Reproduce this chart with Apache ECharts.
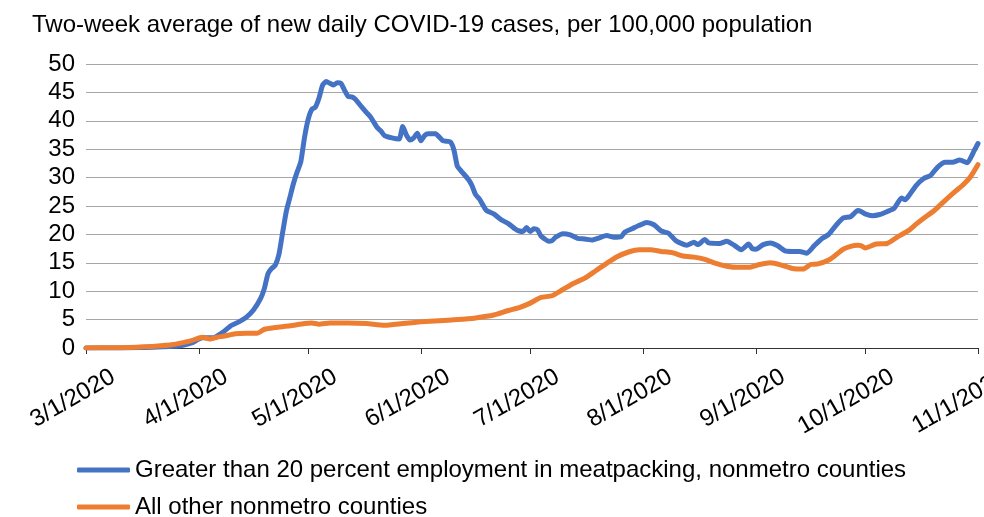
<!DOCTYPE html>
<html>
<head>
<meta charset="utf-8">
<script src="https://cdn.jsdelivr.net/npm/echarts@6/dist/echarts.min.js"></script>
<style>
html,body{margin:0;padding:0;background:#fff;}
#chart{width:984px;height:517px;}
</style>
</head>
<body>
<div id="chart"></div>
<script>
const titleText = 'Two-week average of new daily COVID-19 cases, per 100,000 population';
const seriesNames = ['Greater than 20 percent employment in meatpacking, nonmetro counties', 'All other nonmetro counties'];
const yTicks = [0, 5, 10, 15, 20, 25, 30, 35, 40, 45, 50];

const meatDates = ['2020-03-01','2020-03-10','2020-03-17','2020-03-22','2020-03-27','2020-03-30','2020-04-02','2020-04-05','2020-04-07','2020-04-10','2020-04-12','2020-04-14','2020-04-16','2020-04-18','2020-04-19','2020-04-20','2020-04-21','2020-04-22','2020-04-23','2020-04-24','2020-04-25','2020-04-26','2020-04-27','2020-04-28','2020-04-29','2020-04-30','2020-05-01','2020-05-02','2020-05-03','2020-05-04','2020-05-05','2020-05-06','2020-05-07','2020-05-08','2020-05-09','2020-05-10','2020-05-11','2020-05-12','2020-05-13','2020-05-14','2020-05-15','2020-05-17','2020-05-18','2020-05-19','2020-05-20','2020-05-21','2020-05-22','2020-05-24','2020-05-26','2020-05-27','2020-05-28','2020-05-29','2020-05-30','2020-05-31','2020-06-01','2020-06-02','2020-06-03','2020-06-05','2020-06-07','2020-06-09','2020-06-10','2020-06-11','2020-06-12','2020-06-14','2020-06-15','2020-06-16','2020-06-17','2020-06-18','2020-06-19','2020-06-21','2020-06-23','2020-06-25','2020-06-27','2020-06-28','2020-06-29','2020-06-30','2020-07-01','2020-07-02','2020-07-03','2020-07-04','2020-07-05','2020-07-06','2020-07-07','2020-07-08','2020-07-10','2020-07-12','2020-07-14','2020-07-16','2020-07-18','2020-07-20','2020-07-22','2020-07-24','2020-07-26','2020-07-27','2020-07-29','2020-07-31','2020-08-02','2020-08-04','2020-08-06','2020-08-08','2020-08-10','2020-08-13','2020-08-15','2020-08-16','2020-08-18','2020-08-19','2020-08-22','2020-08-24','2020-08-26','2020-08-28','2020-08-30','2020-08-31','2020-09-01','2020-09-03','2020-09-05','2020-09-07','2020-09-09','2020-09-11','2020-09-13','2020-09-15','2020-09-17','2020-09-19','2020-09-21','2020-09-23','2020-09-25','2020-09-27','2020-09-29','2020-09-30','2020-10-01','2020-10-03','2020-10-05','2020-10-07','2020-10-09','2020-10-11','2020-10-12','2020-10-13','2020-10-15','2020-10-17','2020-10-19','2020-10-21','2020-10-23','2020-10-25','2020-10-27','2020-10-29','2020-10-31','2020-11-01'];
const meatValues = [0,0,0.1,0.2,0.4,0.9,1.8,1.8,2.5,4.0,4.6,5.4,6.7,8.8,10.5,13.1,14.0,14.6,16.5,20.3,24.0,26.5,29.0,31.0,32.8,37.0,40.2,42.0,42.4,44.0,46.3,46.9,46.6,46.3,46.7,46.6,45.4,44.3,44.2,43.8,43.0,41.5,40.8,39.8,38.8,38.2,37.4,37.0,36.8,39.0,37.5,36.6,37.0,37.8,36.5,37.4,37.7,37.7,36.5,36.3,35.0,32.0,31.2,29.7,28.6,27.0,26.3,25.2,24.2,23.6,22.6,21.9,20.9,20.6,20.5,21.2,20.5,21.0,20.8,19.7,19.2,18.8,18.9,19.5,20.1,19.9,19.3,19.2,19.0,19.4,19.8,19.5,19.6,20.4,21.0,21.6,22.1,21.7,20.6,20.2,18.9,18.1,18.6,18.2,19.1,18.5,18.4,18.8,18.1,17.3,18.3,17.5,17.4,18.2,18.5,18.0,17.1,17.0,17.0,16.7,18.0,19.2,20.0,21.6,22.9,23.1,24.2,24.0,23.6,23.3,23.5,24.0,24.6,26.4,26.1,26.8,28.6,29.8,30.4,31.9,32.7,32.7,33.1,32.6,34.8,36.0];

const otherDates = ['2020-03-01','2020-03-10','2020-03-15','2020-03-20','2020-03-25','2020-03-28','2020-03-30','2020-04-02','2020-04-04','2020-04-06','2020-04-08','2020-04-11','2020-04-14','2020-04-17','2020-04-19','2020-04-22','2020-04-26','2020-04-30','2020-05-02','2020-05-04','2020-05-07','2020-05-12','2020-05-17','2020-05-22','2020-05-27','2020-06-01','2020-06-06','2020-06-11','2020-06-16','2020-06-21','2020-06-25','2020-06-28','2020-07-01','2020-07-04','2020-07-07','2020-07-10','2020-07-13','2020-07-16','2020-07-19','2020-07-22','2020-07-25','2020-07-28','2020-07-31','2020-08-03','2020-08-06','2020-08-09','2020-08-12','2020-08-15','2020-08-18','2020-08-21','2020-08-24','2020-08-27','2020-08-30','2020-09-02','2020-09-05','2020-09-08','2020-09-11','2020-09-14','2020-09-16','2020-09-18','2020-09-21','2020-09-23','2020-09-25','2020-09-27','2020-09-29','2020-09-30','2020-10-01','2020-10-04','2020-10-07','2020-10-10','2020-10-13','2020-10-15','2020-10-17','2020-10-20','2020-10-23','2020-10-26','2020-10-28','2020-10-30','2020-11-01'];
const otherValues = [0,0.05,0.15,0.3,0.6,1.0,1.3,1.9,1.6,1.9,2.1,2.5,2.6,2.6,3.3,3.6,3.9,4.3,4.4,4.2,4.4,4.4,4.3,4.0,4.3,4.6,4.8,5.0,5.3,5.8,6.6,7.1,7.9,8.9,9.2,10.3,11.4,12.3,13.6,14.9,16.1,16.9,17.3,17.3,17.0,16.8,16.2,16.0,15.6,14.9,14.4,14.2,14.2,14.7,15.0,14.6,14.0,13.9,14.7,14.8,15.5,16.4,17.4,17.9,18.1,18.0,17.6,18.3,18.4,19.6,20.7,21.8,22.8,24.2,26.0,27.7,28.8,30.2,32.3];

const xMin = '2020-03-01';
const xMax = '2020-11-01';
const colors = ['#4472C4', '#ED7D31'];
const FONT = 'Liberation Sans, Arial, Helvetica, sans-serif';
const FS = 24;

function pairs(d, v) { return d.map((x, i) => [x, v[i]]); }

function legendFor(name, top) {
  return {
    orient: 'vertical', left: 72, top: top,
    itemWidth: 53, itemHeight: 5, icon: 'roundRect',
    textStyle: {fontFamily: FONT, fontSize: FS, color: '#000'},
    data: [name]
  };
}

const chart = echarts.init(document.getElementById('chart'), null, {renderer: 'canvas'});
chart.setOption({
  animation: false,
  color: colors,
  title: {
    text: titleText, left: 27, top: 8,
    textStyle: {fontFamily: FONT, fontSize: FS, fontWeight: 'normal', color: '#000'}
  },
  grid: {left: 86, right: 6, top: 64, bottom: 169, containLabel: false, outerBoundsMode: 'none'},
  legend: [legendFor(seriesNames[0], 453), legendFor(seriesNames[1], 490)],
  xAxis: {
    type: 'time', min: xMin, max: xMax, splitNumber: 8,
    axisLine: {lineStyle: {color: '#333', width: 1}},
    axisTick: {show: true, length: 6, lineStyle: {color: '#333'}},
    splitLine: {show: false},
    minorTick: {show: false},
    axisLabel: {
      rotate: 30, fontFamily: FONT, fontSize: FS, color: '#000', margin: 14,
      padding: [25, -17, -25, 0],
      showMinLabel: true, showMaxLabel: true, hideOverlap: false,
      formatter: function (v) { const d = new Date(v); return (d.getMonth()+1) + '/' + d.getDate() + '/' + d.getFullYear(); }
    }
  },
  yAxis: {
    type: 'value', min: yTicks[0], max: yTicks[yTicks.length-1], interval: 5,
    axisLine: {show: false}, axisTick: {show: false},
    splitLine: {lineStyle: {color: '#a6a6a6', width: 1}},
    axisLabel: {fontFamily: FONT, fontSize: FS, color: '#000', margin: 11}
  },
  series: [
    {name: seriesNames[0], type: 'line', data: pairs(meatDates, meatValues), showSymbol: false, smooth: 0.2,
     lineStyle: {width: 5, color: colors[0], cap: 'round', join: 'round'}, z: 3},
    {name: seriesNames[1], type: 'line', data: pairs(otherDates, otherValues), showSymbol: false, smooth: 0.2,
     lineStyle: {width: 5, color: colors[1], cap: 'round', join: 'round'}, z: 4}
  ]
});
</script>
</body>
</html>
